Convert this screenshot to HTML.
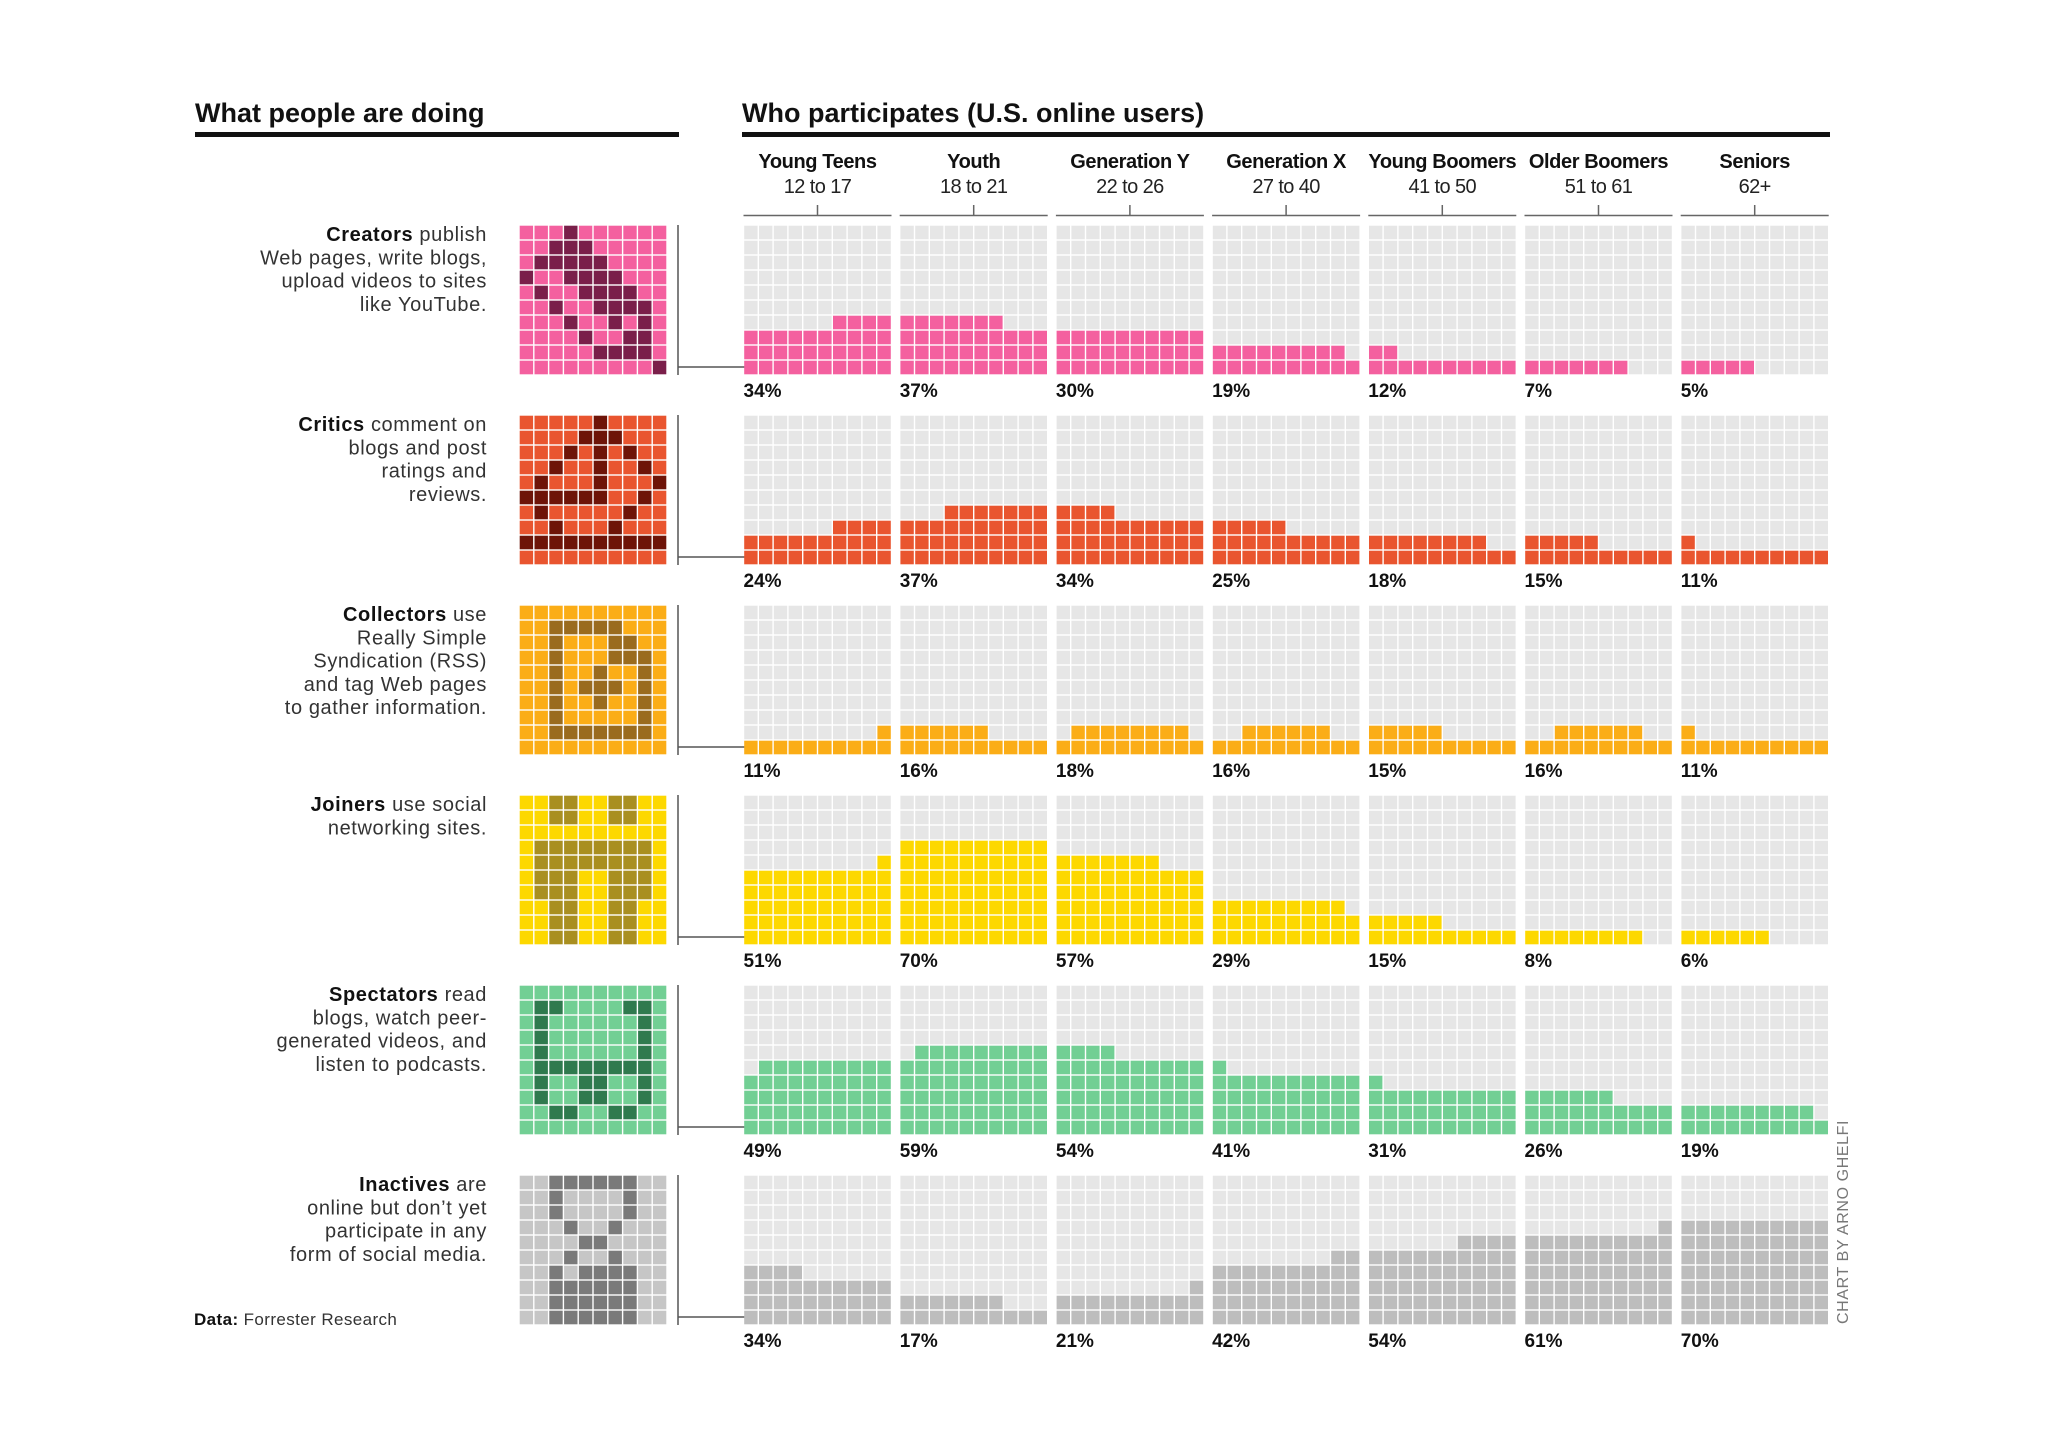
<!DOCTYPE html>
<html><head><meta charset="utf-8"><style>
html,body{margin:0;padding:0;background:#fff;}
svg{display:block;font-family:"Liberation Sans",sans-serif;}
</style></head><body>
<svg id="chart" width="2048" height="1447" viewBox="0 0 2048 1447" xmlns="http://www.w3.org/2000/svg">
<rect width="2048" height="1447" fill="#fff"/>
<text x="195" y="122" font-size="27" font-weight="bold" fill="#111">What people are doing</text>
<rect x="195" y="132" width="484" height="5" fill="#111"/>
<text x="742" y="122" font-size="27" font-weight="bold" fill="#111">Who participates (U.S. online users)</text>
<rect x="742" y="132" width="1088" height="5" fill="#111"/>
<text x="194" y="1325" font-size="17" fill="#333" letter-spacing="0.4"><tspan font-weight="bold" fill="#111">Data:</tspan> Forrester Research</text>
<text transform="translate(1848,1324) rotate(-90)" font-size="16" fill="#777" letter-spacing="0.6">CHART BY ARNO GHELFI</text>
<g id="plot"></g>
</svg>
<script>
const groups = ["Young Teens","Youth","Generation Y","Generation X","Young Boomers","Older Boomers","Seniors"];
const ages = ["12 to 17","18 to 21","22 to 26","27 to 40","41 to 50","51 to 61","62+"];
const activities = ["Creators","Critics","Collectors","Joiners","Spectators","Inactives"];
const creators = [34,37,30,19,12,7,5];
const critics = [24,37,34,25,18,15,11];
const collectors = [11,16,18,16,15,16,11];
const joiners = [51,70,57,29,15,8,6];
const spectators = [49,59,54,41,31,26,19];
const inactives = [34,17,21,42,54,61,70];
const creatorsPartialStart = [6,0,0,0,0,0,0];
const criticsPartialStart = [6,3,0,0,0,0,0];
const collectorsPartialStart = [9,0,1,2,0,2,0];
const joinersPartialStart = [9,0,0,0,0,0,0];
const spectatorsPartialStart = [1,1,0,0,0,0,0];
const inactivesPartialStart = [0,0,9,8,6,9,0];

const series=[creators,critics,collectors,joiners,spectators,inactives];
const starts=[creatorsPartialStart,criticsPartialStart,collectorsPartialStart,joinersPartialStart,spectatorsPartialStart,inactivesPartialStart];
const fills=["#f4609f","#e9552f","#fbad17","#fdd800","#72cf94","#bdbdbd"];
const iconBase=["#f4609f","#e9552f","#fbad17","#fdd800","#72cf94","#c6c6c6"];
const iconDark=["#7a1f4a","#6e1408","#9a6b1e","#a98f20","#2f7a4e","#7a7a7a"];
const descs=[
 [["Creators"," publish"],"Web pages, write blogs,","upload videos to sites","like YouTube."],
 [["Critics"," comment on"],"blogs and post","ratings and","reviews."],
 [["Collectors"," use"],"Really Simple","Syndication (RSS)","and tag Web pages","to gather information."],
 [["Joiners"," use social"],"networking sites."],
 [["Spectators"," read"],"blogs, watch peer-","generated videos, and","listen to podcasts."],
 [["Inactives"," are"],"online but don\u2019t yet","participate in any","form of social media."]
];
const icons=[
["...X......","..XXX.....",".XXXXX....","X..XXXX...",".X..XXXX..","..X..XXXX.","...X..X.X.","....X..XX.",".....XXXX.",".........X"],
[".....X....","....XXX...","...X.X.X..","..X..X..X.",".X...X...X","XXXXXX..X.",".X.....X..","..X...X...","XXXXXXXXXX",".........."],
["..........","..XXXXX...","..X...XX..","..X...XXX.","..X..X..X.","..X.XXX.X.","..X..X..X.","..X.....X.","..XXXXXXX.",".........."],
["..XX..XX..","..XX..XX..","..........",".XXXXXXXX.",".XXXXXXXX.",".XXX..XXX.",".XXX..XXX.","..XX..XX..","..XX..XX..","..XX..XX.."],
["..........",".XX....XX.",".X......X.",".X......X.",".X......X.",".XXXXXXXX.",".X..XX..X.",".X..XX..X.","..XX..XX..",".........."],
["..XXXXXX..","..X....X..","..X....X..","...X..X...","....XX....","...X..X...","..X.XXXX..","..XXXXXX..","..XXXXXX..","..XXXXXX.."]
];
const NS="http://www.w3.org/2000/svg";
const plot=document.getElementById('plot');
function mk(tag,attrs,parent){const e=document.createElementNS(NS,tag);for(const k in attrs)e.setAttribute(k,attrs[k]);(parent||plot).appendChild(e);return e;}
const colX=i=>743.5+i*156.2;
const rowY=j=>225+j*190;
const blockW=148, blockH=150;
const cellX=c=>c*blockW/10;
const cellY=r=>blockH-(r+1)*blockH/10;

groups.forEach((g,i)=>{
  const cx=colX(i)+blockW/2;
  const t=mk('text',{x:cx,y:168,'font-size':20,'font-weight':'bold','text-anchor':'middle',fill:'#111','letter-spacing':'-0.4'});
  
  
  t.textContent=g;
  const a=mk('text',{x:cx,y:193,'font-size':20,'text-anchor':'middle',fill:'#222','letter-spacing':'-0.6'});
  
  
  a.textContent=ages[i];
  const l=mk('path',{d:`M${colX(i)} 215.5H${colX(i)+blockW}M${cx} 205V215`,stroke:'#666','stroke-width':1.5,fill:'none'});
  
  
});

activities.forEach((act,j)=>{
  const y0=rowY(j);
  const d=descs[j];
  const tx=mk('text',{x:487,y:y0+16,'font-size':20,'text-anchor':'end',fill:'#333','letter-spacing':'0.6'});
  
  
  d.forEach((line,k)=>{
    const ts=mk('tspan',{x:487,dy:k===0?0:23.3},tx);
    if(Array.isArray(line)){
      const b=mk('tspan',{'font-weight':'bold',fill:'#111'},ts);b.textContent=line[0];
      const r=mk('tspan',{},ts);r.textContent=line[1];
    } else ts.textContent=line;
  });
  const ig=mk('g',{transform:`translate(519,${y0})`});
  
  
  icons[j].forEach((rowStr,r)=>{
    for(let c=0;c<10;c++){
      mk('rect',{x:c*14.8+0.7,y:r*15+0.7,width:13.4,height:13.6,fill:rowStr[c]==='X'?iconDark[j]:iconBase[j]},ig);
    }
  });
  const cn=mk('path',{d:`M678 ${y0}V${y0+150}M678 ${y0+142}H750`,stroke:'#555','stroke-width':1.5,fill:'none'});
  
  
  const vals=series[j], st=starts[j];
  vals.forEach((v,i)=>{
    const g=mk('g',{transform:`translate(${colX(i)},${y0})`});
    
    
    const full=Math.floor(v/10), rem=v%10;
    for(let r=0;r<10;r++)for(let c=0;c<10;c++){
      const on = r<full || (r===full && c>=st[i] && c<st[i]+rem);
      const cell=mk('rect',{x:cellX(c)+0.7,y:cellY(r)+0.7,width:blockW/10-1.4,height:blockH/10-1.4,fill:on?fills[j]:'#e6e6e6'},g);
      
      
    }
    const lab=mk('text',{x:colX(i),y:y0+172,'font-size':19,'font-weight':'bold',fill:'#111'});
    
    
    lab.textContent=v+'%';
  });
});
</script>
</body></html>
